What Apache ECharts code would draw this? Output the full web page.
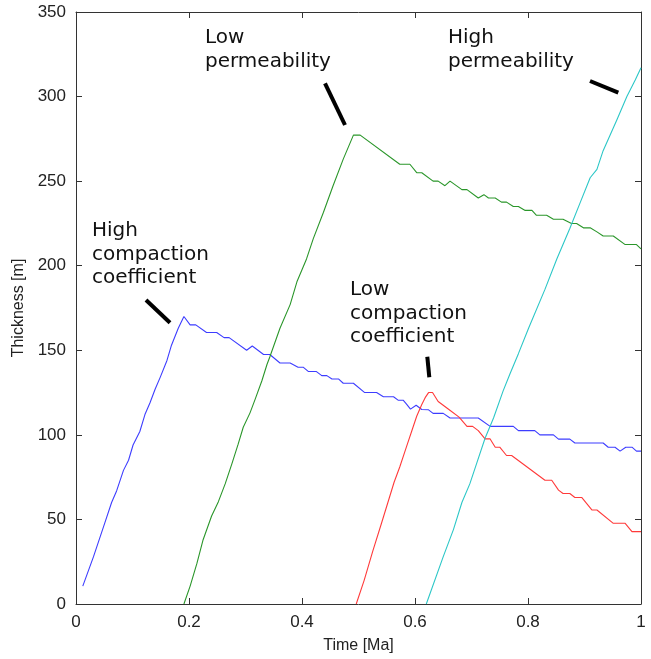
<!DOCTYPE html>
<html>
<head>
<meta charset="utf-8">
<script src="https://cdn.jsdelivr.net/npm/echarts@6/dist/echarts.min.js"></script>
<style>
html,body{margin:0;padding:0;background:#fff;}
#chart{width:651px;height:659px;}
</style>
</head>
<body>
<div id="chart"></div>
<script>
// ---- data (Time [Ma], Thickness [m]) ----
var highCompaction = [[0.012,10.6],[0.031,28],[0.051,48],[0.063,60],[0.072,67],[0.084,79],[0.093,85],[0.101,94],[0.113,102],[0.122,112],[0.131,119],[0.140,127],[0.149,134],[0.161,144],[0.169,153],[0.181,163],[0.191,170],
  [0.202,165],[0.212,165],[0.231,160.5],[0.249,160.5],[0.262,157.5],[0.271,157.5],[0.302,150],[0.312,152.5],[0.332,147.5],[0.343,147.5],[0.361,142.5],[0.379,142.5],[0.393,140],[0.402,140],[0.411,137.5],[0.425,137.5],[0.435,135],[0.444,135],[0.453,133],[0.465,133],[0.473,130.5],[0.491,130.5],[0.511,125],[0.532,125],[0.544,122.5],[0.562,122.5],[0.570,120.5],[0.579,120.5],[0.585,118.2],[0.592,115.2],[0.602,117.5],[0.612,115],[0.624,114.8],[0.632,112.7],[0.650,112.7],[0.662,110],[0.712,110],[0.733,105],[0.774,105],[0.783,102.5],[0.812,102.5],[0.821,100],[0.845,100],[0.854,97.5],[0.874,97.5],[0.883,95.2],[0.933,95.2],[0.942,92.7],[0.954,92.7],[0.963,90.4],[0.973,92.7],[0.984,92.7],[0.992,90.4],[1.0,90.4]];
var lowPermeability = [[0.191,0],[0.202,10.6],[0.214,24],[0.225,38],[0.240,52],[0.252,60.5],[0.264,71],[0.276,83],[0.287,94.5],[0.296,104.5],[0.308,113],[0.317,121],[0.329,132],[0.338,141.6],[0.343,146],[0.361,163],[0.379,177],[0.391,190.5],[0.408,204],[0.420,216],[0.438,231.6],[0.455,247.3],[0.473,263],[0.491,277.2],[0.503,277.2],
  [0.573,260],[0.591,260],[0.603,255],[0.612,255],[0.632,250],[0.641,250],[0.653,247.3],[0.662,250],[0.683,245],[0.692,245],[0.712,240],[0.722,242],[0.730,240],[0.742,240],[0.753,237.6],[0.762,237.6],[0.774,235],[0.783,235],[0.795,232.7],[0.807,232.7],[0.815,229.8],[0.833,229.8],[0.845,227.5],[0.862,227.5],[0.877,225],[0.886,225],[0.898,222.4],[0.910,222.4],[0.922,220],[0.933,217.6],[0.951,217.6],[0.972,212.5],[0.992,212.5],[1.0,210]];
var lowCompaction = [[0.496,0],[0.510,14],[0.525,31],[0.540,47],[0.552,60],[0.563,72],[0.573,81],[0.585,93],[0.595,103],[0.603,111],[0.612,118],[0.618,122],[0.624,125],[0.631,125],[0.641,119.7],[0.660,115],[0.678,110.5],[0.692,105],[0.702,105],[0.712,102.5],[0.724,97.6],[0.733,97.6],[0.742,92.7],[0.750,92.7],[0.762,87.8],[0.771,87.8],[0.830,73.2],[0.842,73.2],[0.854,67.3],[0.862,65.3],[0.874,65.3],[0.883,63],[0.895,63],[0.913,55.6],[0.922,55.6],[0.951,47.7],[0.972,47.7],[0.984,42.8],[1.0,42.8]];
var highPermeability = [[0.620,0],[0.650,28],[0.668,44],[0.683,60],[0.697,71],[0.709,83],[0.724,98],[0.739,110],[0.756,126],[0.768,136],[0.783,148],[0.801,163],[0.830,186],[0.851,204],[0.874,222],[0.892,237],[0.910,252],[0.922,257],[0.933,268],[0.957,286],[0.975,300],[0.990,310],[1.0,317]];

var xTicks = [0, 0.2, 0.4, 0.6, 0.8, 1];
var yTicks = [0, 50, 100, 150, 200, 250, 300, 350];
var seriesNames = ['High compaction coefficient', 'Low permeability', 'Low compaction coefficient', 'High permeability'];

var chart = echarts.init(document.getElementById('chart'), null, {renderer: 'canvas'});

var axisColor = '#333333';
var labelFont = {fontFamily: 'Liberation Sans', fontSize: 17, color: '#222'};
function baseX(pos, show) {
  return {
    type: 'value', position: pos, min: xTicks[0], max: xTicks[xTicks.length-1], interval: 0.2,
    axisLine: {show: true, onZero: false, lineStyle: {color: axisColor, width: 1}},
    axisTick: {show: true, inside: true, length: 6, lineStyle: {color: axisColor}},
    axisLabel: show ? Object.assign({margin: 10, formatter: function(v){return String(+v.toFixed(1));}}, labelFont) : {show: false},
    splitLine: {show: false}
  };
}
function baseY(pos, show) {
  return {
    type: 'value', position: pos, min: yTicks[0], max: yTicks[yTicks.length-1], interval: 50,
    axisLine: {show: true, onZero: false, lineStyle: {color: axisColor, width: 1}},
    axisTick: {show: true, inside: true, length: 6, lineStyle: {color: axisColor}},
    axisLabel: show ? Object.assign({margin: 10}, labelFont) : {show: false},
    splitLine: {show: false}
  };
}
var xb = baseX('bottom', true);
xb.name = 'Time [Ma]'; xb.nameLocation = 'middle'; xb.nameGap = 34;
xb.nameTextStyle = {fontFamily: 'Liberation Sans', fontSize: 16, color: '#222'};
var yl = baseY('left', true);
yl.name = 'Thickness [m]'; yl.nameLocation = 'middle'; yl.nameGap = 43;
yl.nameTextStyle = {fontFamily: 'Liberation Sans', fontSize: 16, color: '#222'};

function lineSeries(name, data, color) {
  return {name: name, type: 'line', data: data, xAxisIndex: 0, yAxisIndex: 0, symbol: 'none',
    lineStyle: {color: color, width: 1.1}, itemStyle: {color: color}, animation: false};
}

var annoFont = '20px "DejaVu Sans"';
function txt(x, y, s) {
  return {type: 'text', left: x, top: y, style: {text: s, font: annoFont, fill: '#111', textVerticalAlign: 'top'}};
}
function seg(x1, y1, x2, y2) {
  return {type: 'line', shape: {x1: x1, y1: y1, x2: x2, y2: y2}, style: {stroke: '#000', lineWidth: 4}};
}

chart.setOption({
  animation: false,
  backgroundColor: '#fff',
  grid: {left: 76, right: 10, top: 12, bottom: 51, containLabel: false},
  xAxis: [xb, baseX('top', false)],
  yAxis: [yl, baseY('right', false)],
  series: [
    lineSeries(seriesNames[0], highCompaction, '#3d3dff'),
    lineSeries(seriesNames[1], lowPermeability, '#2a962a'),
    lineSeries(seriesNames[2], lowCompaction, '#ff3a3a'),
    lineSeries(seriesNames[3], highPermeability, '#2cc7c7')
  ],
  graphic: [
    txt(92, 221, 'High'), txt(92, 244.5, 'compaction'), txt(92, 268, 'coefficient'),
    txt(205, 28, 'Low'), txt(205, 51.5, 'permeability'),
    txt(448, 28, 'High'), txt(448, 51.5, 'permeability'),
    txt(350, 280, 'Low'), txt(350, 303.5, 'compaction'), txt(350, 327, 'coefficient'),
    seg(146, 300, 170, 322.7),
    seg(325, 83.3, 345, 125),
    seg(590, 81, 618.3, 92.7),
    seg(427.3, 356.7, 429.3, 377.3)
  ]
});
</script>
</body>
</html>
